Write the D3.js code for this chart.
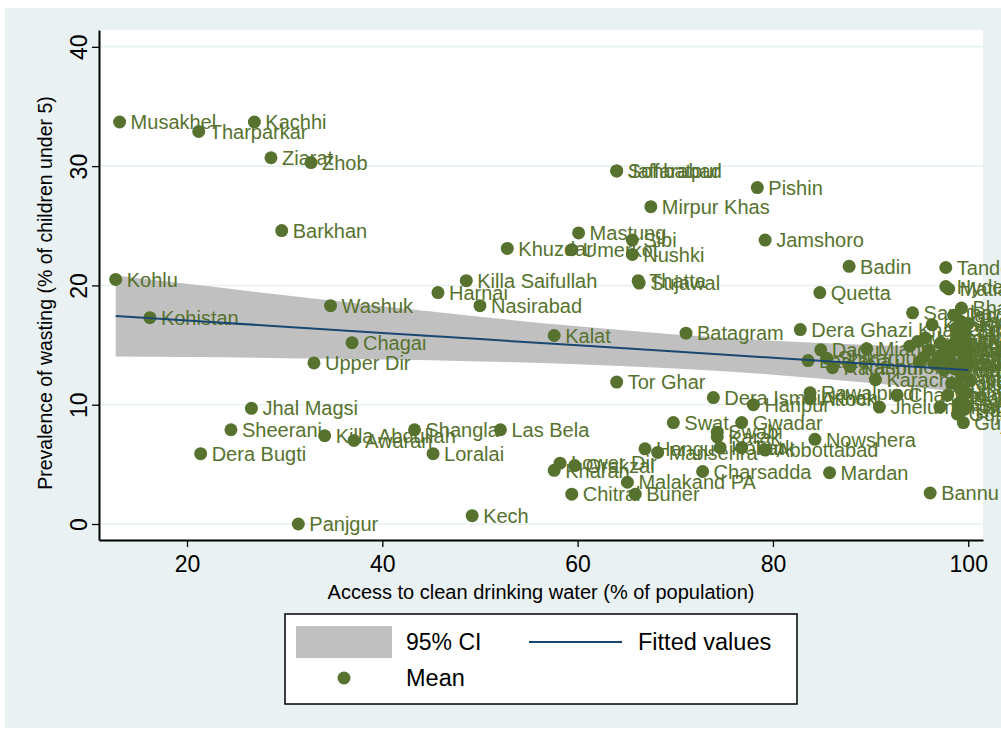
<!DOCTYPE html>
<html>
<head>
<meta charset="utf-8">
<script src="https://cdn.jsdelivr.net/npm/d3@7"></script>
<style>
  body { margin: 0; background: #ffffff; }
  text { font-family: "Liberation Sans", Arial, sans-serif; }
</style>
</head>
<body>
<svg id="chart" width="1001" height="731"></svg>
<script>
// district names, access to clean water (% pop) and wasting (% under 5)
var districts = ["Musakhel","Tharparkar","Kachhi","Ziarat","Zhob","Barkhan","Kohlu","Kohistan","Washuk","Chagai",
  "Upper Dir","Jhal Magsi","Sheerani","Dera Bugti","Killa Abdullah","Awaran","Panjgur","Harnai","Killa Saifullah","Nasirabad",
  "Khuzdar","Umerkot","Mastung","Sibi","Nushki","Jaffarabad","Sohbatpur","Mirpur Khas","Pishin","Jamshoro",
  "Badin","Thatta","Sujawal","Kalat","Batagram","Quetta","Tor Ghar","Dera Ghazi Khan","Shangla","Las Bela",
  "Loralai","Kech","Lower Dir","Kharan","Orakzai","Malakand PA","Chitral","Buner","Swat","Gwadar",
  "Swabi","Karak","Hangu","Mansehra","Kohat","Tank","Abbottabad","Nowshera","Charsadda","Mardan",
  "Bannu","Dera Ismail Khan","Haripur","Rawalpindi","Attock","Jhelum","Chakwal","Karachi Central","Dadu","Mianwali",
  "Larkana","Shikarpur","Rajanpur","Kashmore","Tando Allahyar","Hyderabad","Matiari","Bhakkar","Sanghar","Khairpur",
  "Jacobabad","Ghotki","Sukkur","Naushahro Feroze","Shaheed Benazirabad","Qambar Shahdadkot","Tando Muhammad Khan","Layyah","Lodhran","Bahawalpur",
  "Bahawalnagar","Rahim Yar Khan","Vehari","Khanewal","Multan","Pakpattan","Okara","Sahiwal","Kasur","Lahore",
  "Sheikhupura","Nankana Sahib","Faisalabad","Toba Tek Singh","Jhang","Chiniot","Sargodha","Khushab","Hafizabad","Mandi Bahauddin",
  "Gujranwala","Gujrat","Sialkot","Narowal","Islamabad","Karachi East","Karachi West","Karachi South","Korangi","Malir",
  "Muzaffargarh","Lakki Marwat"];
var waterAccess = [13.1,21.2,26.9,28.6,32.7,29.7,12.7,16.2,34.7,36.9,
  33.0,26.6,24.5,21.4,34.1,37.1,31.4,45.7,48.6,50.0,
  52.8,59.4,60.1,65.6,65.6,64.0,64.0,67.5,78.4,79.2,
  87.8,66.2,66.3,57.6,71.1,84.8,64.0,82.8,43.3,52.1,
  45.2,49.2,58.2,57.6,59.7,65.1,59.4,65.9,69.8,76.8,
  74.3,74.3,66.9,68.2,74.6,76.8,79.2,84.3,72.8,85.8,
  96.1,73.9,78.0,83.8,83.8,90.9,92.7,90.5,84.9,89.6,
  83.6,85.5,86.1,87.9,97.7,97.7,98.0,99.3,94.3,96.3,
  98.5,99.2,99.6,98.8,97.2,96.0,95.5,94.0,95.0,96.5,
  97.5,98.0,98.6,99.0,99.3,98.3,99.1,99.6,99.8,100.0,
  99.7,99.4,99.8,99.5,97.9,98.7,99.0,97.1,99.6,97.9,
  98.9,99.5,99.9,100.2,100.0,99.2,98.4,100.1,97.6,96.9,
  94.8,95.6];
var wasting = [33.7,32.9,33.7,30.7,30.3,24.6,20.5,17.3,18.3,15.2,
  13.5,9.7,7.9,5.9,7.4,7.0,0.0,19.4,20.4,18.3,
  23.1,23.0,24.4,23.8,22.6,29.6,29.6,26.6,28.2,23.8,
  21.6,20.4,20.2,15.8,16.0,19.4,11.9,16.3,7.9,7.9,
  5.9,0.7,5.1,4.5,4.9,3.5,2.5,2.5,8.5,8.5,
  7.7,7.3,6.3,6.0,6.4,6.4,6.2,7.1,4.4,4.3,
  2.6,10.6,10.0,11.0,10.5,9.8,10.8,12.1,14.6,14.7,
  13.7,13.9,13.1,13.2,21.5,19.9,19.7,18.1,17.7,16.7,
  17.5,17.0,16.2,15.5,15.2,14.6,14.0,14.9,13.6,13.4,
  12.9,14.2,13.0,14.6,12.4,11.8,11.4,12.9,11.0,13.4,
  14.1,10.5,15.2,15.8,13.6,16.4,10.1,9.8,9.6,10.8,
  9.2,8.5,9.9,12.0,16.8,13.3,15.0,14.6,14.5,13.9,
  15.3,15.6];

// fitted values and 95% CI
var fitX = [12.7, 20, 30, 40, 50, 60, 70, 80, 90, 100];
var fitY = [17.44, 17.06, 16.54, 16.02, 15.50, 14.98, 14.46, 13.94, 13.42, 12.90];
var ciUpper = [20.84, 20.13, 19.18, 18.25, 17.37, 16.57, 15.88, 15.36, 15.01, 14.77];
var ciLower = [14.04, 13.99, 13.90, 13.79, 13.63, 13.39, 13.04, 12.52, 11.83, 11.03];

var xTicks = [20, 40, 60, 80, 100];
var yTicks = [0, 10, 20, 30, 40];

var green = "#56722e";
var navy = "#1a476f";
var band = "#c0c0c0";
var bg = "#e9f1f3";

var svg = d3.select("#chart");

var plotL = 99, plotR = 983, plotT = 30, plotB = 540;
var x = d3.scaleLinear().domain([10.99, 101.51]).range([plotL, plotR]);
var y = d3.scaleLinear().domain([-1.34, 41.41]).range([plotB, plotT]);

// outer background
svg.append("rect")
  .attr("x", 5).attr("y", 8)
  .attr("width", 996).attr("height", 720)
  .attr("fill", bg);

svg.append("rect")
  .attr("x", plotL).attr("y", plotT)
  .attr("width", plotR - plotL).attr("height", plotB - plotT)
  .attr("fill", "#ffffff");

// gridlines
svg.selectAll(".grid").data(yTicks).enter().append("line")
  .attr("x1", plotL).attr("x2", plotR)
  .attr("y1", function (d) { return y(d); })
  .attr("y2", function (d) { return y(d); })
  .attr("stroke", "#e6eff2")
  .attr("stroke-width", 1.5);

// CI band
var fitData = fitX.map(function (v, i) {
  return {x: v, fit: fitY[i], lo: ciLower[i], hi: ciUpper[i]};
});
svg.append("path")
  .datum(fitData)
  .attr("fill", band)
  .attr("d", d3.area()
    .x(function (d) { return x(d.x); })
    .y0(function (d) { return y(d.lo); })
    .y1(function (d) { return y(d.hi); })
    .curve(d3.curveMonotoneX));

// points + labels
var pts = districts.map(function (n, i) {
  return {name: n, x: waterAccess[i], y: wasting[i]};
});
svg.selectAll(".pt").data(pts).enter().append("circle")
  .attr("cx", function (d) { return x(d.x); })
  .attr("cy", function (d) { return y(d.y); })
  .attr("r", 6.5)
  .attr("fill", green);
svg.selectAll(".lab").data(pts).enter().append("text")
  .attr("x", function (d) { return x(d.x) + 11; })
  .attr("y", function (d) { return y(d.y); })
  .attr("dy", "0.36em")
  .attr("fill", green)
  .attr("font-size", "20px")
  .text(function (d) { return d.name; });

// fitted line
svg.append("path")
  .datum(fitData)
  .attr("fill", "none")
  .attr("stroke", navy)
  .attr("stroke-width", 2)
  .attr("d", d3.line()
    .x(function (d) { return x(d.x); })
    .y(function (d) { return y(d.fit); }));

// axes
var xAxis = svg.append("g")
  .attr("transform", "translate(0," + plotB + ")")
  .call(d3.axisBottom(x).tickValues(xTicks).tickSize(7).tickSizeOuter(0));
var yAxis = svg.append("g")
  .attr("transform", "translate(" + plotL + ",0)")
  .call(d3.axisLeft(y).tickValues(yTicks).tickSize(7).tickSizeOuter(0));
[xAxis, yAxis].forEach(function (g) {
  g.select(".domain").attr("stroke", "#000").attr("stroke-width", 2);
  g.selectAll(".tick line").attr("stroke", "#000").attr("stroke-width", 1.3);
  g.selectAll(".tick text")
    .attr("fill", "#000")
    .attr("font-size", "23px")
    .attr("font-family", "Liberation Sans, Arial, sans-serif");
});
xAxis.selectAll(".tick text").attr("y", 16).attr("dy", "0.71em");
yAxis.selectAll(".tick text")
  .attr("x", 0).attr("y", 0).attr("dy", 0)
  .attr("text-anchor", "middle")
  .attr("transform", "translate(-12,0) rotate(-90)");

// axis titles
svg.append("text")
  .attr("x", 541)
  .attr("y", 599)
  .attr("text-anchor", "middle")
  .attr("font-size", "20px")
  .text("Access to clean drinking water (% of population)");
svg.append("text")
  .attr("transform", "translate(52,293) rotate(-90)")
  .attr("text-anchor", "middle")
  .attr("font-size", "19.5px")
  .text("Prevalence of wasting (% of children under 5)");

// legend
var lg = svg.append("g");
lg.append("rect")
  .attr("x", 285).attr("y", 614)
  .attr("width", 512).attr("height", 90)
  .attr("fill", "#fff")
  .attr("stroke", "#000")
  .attr("stroke-width", 1.5);
lg.append("rect")
  .attr("x", 296).attr("y", 626)
  .attr("width", 96).attr("height", 32)
  .attr("fill", band);
lg.append("text").attr("x", 406).attr("y", 642).attr("dy", "0.36em")
  .attr("font-size", "23px").text("95% CI");
lg.append("line")
  .attr("x1", 529).attr("x2", 622)
  .attr("y1", 642).attr("y2", 642)
  .attr("stroke", navy).attr("stroke-width", 2);
lg.append("text").attr("x", 638).attr("y", 642).attr("dy", "0.36em")
  .attr("font-size", "23.5px").text("Fitted values");
lg.append("circle").attr("cx", 344).attr("cy", 678).attr("r", 6.5).attr("fill", green);
lg.append("text").attr("x", 406).attr("y", 678).attr("dy", "0.36em")
  .attr("font-size", "23.5px").text("Mean");
</script>
</body>
</html>
